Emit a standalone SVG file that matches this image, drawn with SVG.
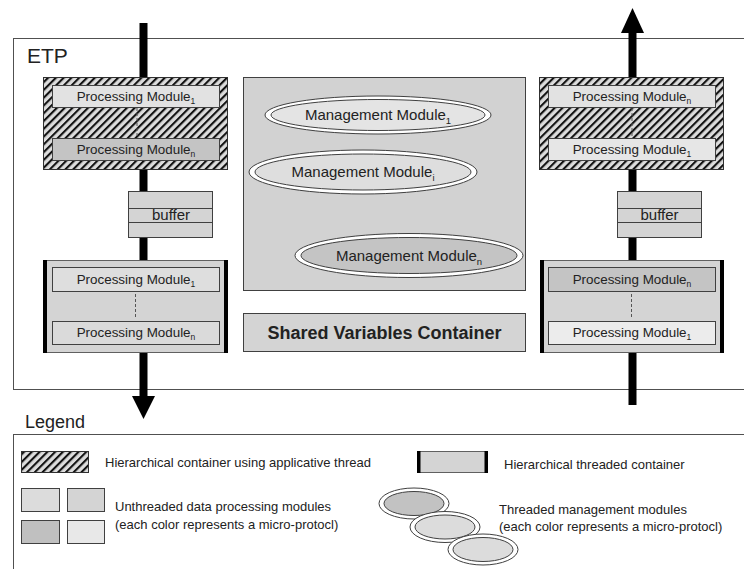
<svg xmlns="http://www.w3.org/2000/svg" width="744" height="569" viewBox="0 0 744 569">
<defs>
<pattern id="hatch" patternUnits="userSpaceOnUse" width="5.5" height="5.5" patternTransform="rotate(45)">
<rect width="5.5" height="5.5" fill="#dcdcdc"/>
<rect x="0" y="0" width="2.1" height="5.5" fill="#111"/>
</pattern>
<style>
text{font-family:"Liberation Sans",Arial,sans-serif;fill:#222}
.box{stroke:#404040;stroke-width:1}
.pm{font-size:13.4px}
.mm{font-size:15px}
.lg{font-size:13px}
.sub{font-size:8.5px}
.subm{font-size:9.5px}
.frame{fill:none;stroke:#505050;stroke-width:1}
.hatch{fill:url(#hatch);stroke:#303030;stroke-width:1}
.thr{fill:#d4d4d4;stroke:#606060;stroke-width:1}
.bar{fill:#000}
.dash{stroke:#555;stroke-width:1;stroke-dasharray:3 2;fill:none}
.ring{fill:#fff;stroke:#404040;stroke-width:1}
</style>
</defs>
<rect width="744" height="569" fill="#fff"/>

<g id="etp">
<rect class="frame" x="13.5" y="38.5" width="800" height="351"/>
<text x="27" y="63" font-size="21">ETP</text>
</g>

<g id="connectors">
<rect x="139.5" y="23" width="8" height="374" fill="#000"/>
<polygon points="132,396 155,396 143.5,419" fill="#000"/>
<rect x="628.5" y="32" width="8" height="373" fill="#000"/>
<polygon points="621,33 644,33 632.5,8" fill="#000"/>
</g>

<g id="left-hatched">
<rect class="hatch" x="43.5" y="77.5" width="184" height="92"/>
<line class="dash" x1="137" y1="108" x2="137" y2="138" stroke="#888"/>
<rect class="box" x="52.5" y="85.5" width="167" height="22" fill="#e2e2e2"/>
<text class="pm" x="136" y="101" text-anchor="middle">Processing Module<tspan class="sub" dy="3">1</tspan></text>
<rect class="box" x="52.5" y="138.5" width="167" height="22" fill="#c4c4c4"/>
<text class="pm" x="136" y="154" text-anchor="middle">Processing Module<tspan class="sub" dy="3">n</tspan></text>
</g>

<g id="left-buffer">
<rect class="box" x="128.5" y="191.5" width="84" height="46" fill="#d4d4d4"/>
<line class="box" x1="128.5" y1="208.5" x2="212.5" y2="208.5"/>
<line class="box" x1="128.5" y1="222.5" x2="212.5" y2="222.5"/>
<text x="171" y="220" font-size="15" text-anchor="middle">buffer</text>
</g>

<g id="left-threaded">
<rect class="thr" x="43.5" y="260.5" width="184" height="92"/>
<rect class="bar" x="43" y="260" width="4" height="93"/>
<rect class="bar" x="224" y="260" width="4" height="93"/>
<rect class="box" x="52.5" y="267.5" width="167" height="24" fill="#dedede"/>
<text class="pm" x="136" y="284" text-anchor="middle">Processing Module<tspan class="sub" dy="3">1</tspan></text>
<line class="dash" x1="135.5" y1="294" x2="135.5" y2="318"/>
<rect class="box" x="52.5" y="321.5" width="167" height="23" fill="#dadada"/>
<text class="pm" x="136" y="337" text-anchor="middle">Processing Module<tspan class="sub" dy="3">n</tspan></text>
</g>

<g id="management-container">
<rect class="box" x="243.5" y="77.5" width="282" height="213" fill="#d2d2d2"/>
</g>

<g id="mm1">
<ellipse class="ring" cx="378" cy="115" rx="113" ry="19"/>
<ellipse class="box" cx="378" cy="115" rx="107" ry="15.5" fill="#e4e4e4"/>
<text class="mm" x="378" y="120" text-anchor="middle">Management Module<tspan class="subm" dy="4">1</tspan></text>
</g>

<g id="mmi">
<ellipse class="ring" cx="363" cy="172" rx="114" ry="22"/>
<ellipse class="box" cx="363" cy="172" rx="108" ry="18" fill="#dedede"/>
<text class="mm" x="363" y="177" text-anchor="middle">Management Module<tspan class="subm" dy="4">i</tspan></text>
</g>

<g id="mmn">
<ellipse class="ring" cx="409" cy="255.5" rx="114" ry="22"/>
<ellipse class="box" cx="409" cy="255.5" rx="108" ry="18" fill="#c4c4c4"/>
<text class="mm" x="409" y="261" text-anchor="middle">Management Module<tspan class="subm" dy="4">n</tspan></text>
</g>

<g id="shared-variables">
<rect class="box" x="243.5" y="313.5" width="282" height="38" fill="#d4d4d4"/>
<text x="384.5" y="338.5" font-size="18" font-weight="bold" text-anchor="middle" fill="#111">Shared Variables Container</text>
</g>

<g id="right-hatched">
<rect class="hatch" x="539.5" y="77.5" width="184" height="92"/>
<line class="dash" x1="632" y1="108" x2="632" y2="138" stroke="#888"/>
<rect class="box" x="548.5" y="85.5" width="167" height="22" fill="#e2e2e2"/>
<text class="pm" x="632" y="101" text-anchor="middle">Processing Module<tspan class="sub" dy="3">n</tspan></text>
<rect class="box" x="548.5" y="138.5" width="167" height="22" fill="#e6e6e6"/>
<text class="pm" x="632" y="154" text-anchor="middle">Processing Module<tspan class="sub" dy="3">1</tspan></text>
</g>

<g id="right-buffer">
<rect class="box" x="617.5" y="191.5" width="84" height="46" fill="#d4d4d4"/>
<line class="box" x1="617.5" y1="208.5" x2="701.5" y2="208.5"/>
<line class="box" x1="617.5" y1="222.5" x2="701.5" y2="222.5"/>
<text x="659.5" y="220" font-size="15" text-anchor="middle">buffer</text>
</g>

<g id="right-threaded">
<rect class="thr" x="540.5" y="260.5" width="183" height="92"/>
<rect class="bar" x="540" y="260" width="4" height="93"/>
<rect class="bar" x="720" y="260" width="4" height="93"/>
<rect class="box" x="548.5" y="267.5" width="167" height="24" fill="#c4c4c4"/>
<text class="pm" x="632" y="284" text-anchor="middle">Processing Module<tspan class="sub" dy="3">n</tspan></text>
<line class="dash" x1="631.5" y1="294" x2="631.5" y2="318"/>
<rect class="box" x="548.5" y="321.5" width="167" height="23" fill="#ececec"/>
<text class="pm" x="632" y="337" text-anchor="middle">Processing Module<tspan class="sub" dy="3">1</tspan></text>
</g>

<g id="legend">
<text x="25" y="428" font-size="18">Legend</text>
<rect class="frame" x="13.5" y="434.5" width="800" height="200"/>
<rect class="hatch" x="21.5" y="451.5" width="67" height="21"/>
<text class="lg" x="105" y="467">Hierarchical container using applicative thread</text>
<rect x="417.5" y="451.5" width="70" height="21" fill="#d4d4d4" stroke="#606060"/>
<rect class="bar" x="417" y="451" width="3.5" height="22"/>
<rect class="bar" x="484.5" y="451" width="3.5" height="22"/>
<text class="lg" x="504" y="469">Hierarchical threaded container</text>
<rect class="box" x="21.5" y="488.5" width="38" height="23" fill="#dcdcdc" stroke="#555"/>
<rect class="box" x="67.5" y="488.5" width="37" height="23" fill="#d4d4d4" stroke="#555"/>
<rect class="box" x="21.5" y="520.5" width="38" height="23" fill="#c0c0c0" stroke="#555"/>
<rect class="box" x="67.5" y="520.5" width="37" height="23" fill="#e8e8e8" stroke="#555"/>
<text class="lg" x="115" y="511">Unthreaded data processing modules</text>
<text class="lg" x="115" y="529">(each color represents a micro-protocl)</text>
<ellipse class="ring" cx="414" cy="503.5" rx="35" ry="15.5"/>
<ellipse class="box" cx="414" cy="503.5" rx="30" ry="12" fill="#c2c2c2"/>
<ellipse class="ring" cx="445" cy="527" rx="35" ry="15.5"/>
<ellipse class="box" cx="445" cy="527" rx="30" ry="12" fill="#dcdcdc"/>
<ellipse class="ring" cx="483" cy="549.5" rx="35" ry="15.5"/>
<ellipse class="box" cx="483" cy="549.5" rx="30" ry="12" fill="#dcdcdc"/>
<text class="lg" x="499" y="514">Threaded management modules</text>
<text class="lg" x="499" y="531">(each color represents a micro-protocl)</text>
</g>
</svg>
